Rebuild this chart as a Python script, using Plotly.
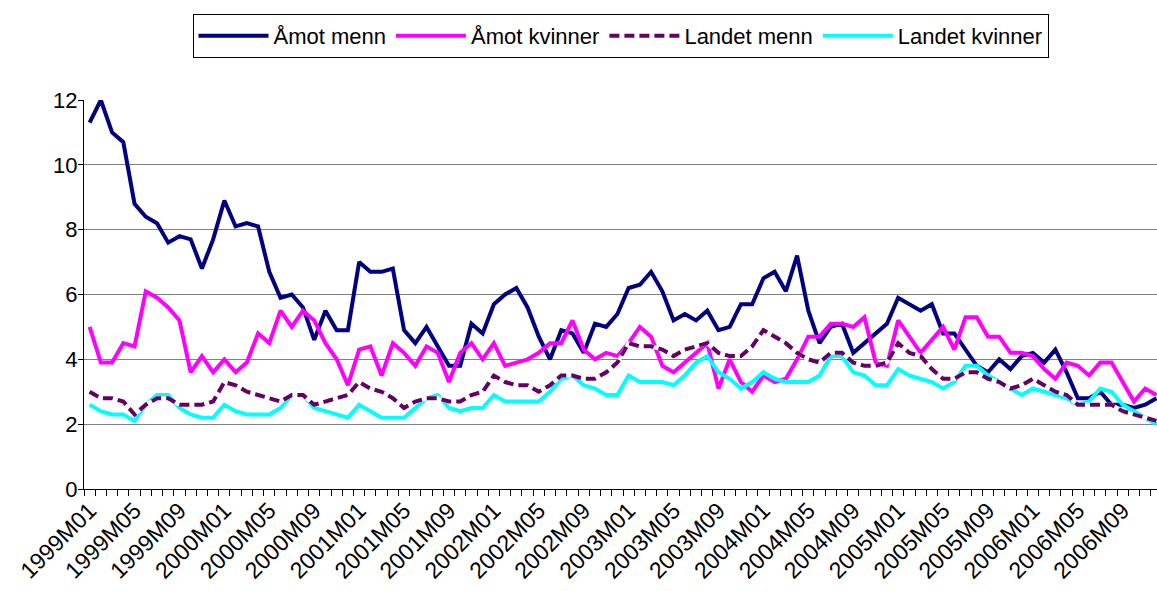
import plotly.graph_objects as go

months = [f"{y}M{m:02d}" for y in range(1999, 2007) for m in range(1, 13)]
tick_labels = months[::4]

amot_menn = [11.3, 12.0, 11.0, 10.7, 8.8, 8.4, 8.2, 7.6, 7.8, 7.7, 6.8, 7.7,
             8.9, 8.1, 8.2, 8.1, 6.7, 5.9, 6.0, 5.6, 4.6, 5.5, 4.9, 4.9,
             7.0, 6.7, 6.7, 6.8, 4.9, 4.5, 5.0, 4.4, 3.8, 3.8, 5.1, 4.8,
             5.7, 6.0, 6.2, 5.6, 4.7, 4.0, 4.9, 4.8, 4.2, 5.1, 5.0, 5.4,
             6.2, 6.3, 6.7, 6.1, 5.2, 5.4, 5.2, 5.5, 4.9, 5.0, 5.7, 5.7,
             6.5, 6.7, 6.1, 7.2, 5.5, 4.5, 5.0, 5.1, 4.2, 4.5, 4.8, 5.1,
             5.9, 5.7, 5.5, 5.7, 4.8, 4.8, 4.3, 3.8, 3.6, 4.0, 3.7, 4.1,
             4.2, 3.9, 4.3, 3.6, 2.8, 2.8, 3.0, 2.6, 2.6, 2.5, 2.6, 2.8]

amot_kvinner = [5.0, 3.9, 3.9, 4.5, 4.4, 6.1, 5.9, 5.6, 5.2, 3.6, 4.1, 3.6,
                4.0, 3.6, 3.9, 4.8, 4.5, 5.5, 5.0, 5.5, 5.2, 4.5, 4.0, 3.2,
                4.3, 4.4, 3.5, 4.5, 4.2, 3.8, 4.4, 4.2, 3.3, 4.2, 4.5, 4.0,
                4.5, 3.8, 3.9, 4.0, 4.2, 4.5, 4.5, 5.2, 4.3, 4.0, 4.2, 4.1,
                4.5, 5.0, 4.7, 3.8, 3.6, 3.9, 4.2, 4.5, 3.1, 4.0, 3.3, 3.0,
                3.5, 3.3, 3.4, 4.0, 4.7, 4.7, 5.1, 5.1, 5.0, 5.3, 3.9, 3.8,
                5.2, 4.7, 4.2, 4.6, 5.0, 4.3, 5.3, 5.3, 4.7, 4.7, 4.2, 4.2,
                4.1, 3.7, 3.4, 3.9, 3.8, 3.5, 3.9, 3.9, 3.3, 2.7, 3.1, 2.9]

landet_menn = [3.0, 2.8, 2.8, 2.7, 2.3, 2.6, 2.8, 2.8, 2.6, 2.6, 2.6, 2.7,
               3.3, 3.2, 3.0, 2.9, 2.8, 2.7, 2.9, 2.9, 2.6, 2.7, 2.8, 2.9,
               3.3, 3.1, 3.0, 2.8, 2.5, 2.7, 2.8, 2.8, 2.7, 2.7, 2.9, 3.0,
               3.5, 3.3, 3.2, 3.2, 3.0, 3.2, 3.5, 3.5, 3.4, 3.4, 3.6, 3.9,
               4.5, 4.4, 4.4, 4.3, 4.1, 4.3, 4.4, 4.5, 4.2, 4.1, 4.1, 4.4,
               4.9, 4.7, 4.5, 4.2, 4.0, 3.9, 4.2, 4.2, 3.9, 3.8, 3.8, 3.9,
               4.5, 4.2, 4.1, 3.7, 3.4, 3.4, 3.6, 3.6, 3.4, 3.3, 3.1, 3.2,
               3.4, 3.2, 3.0, 2.9, 2.6, 2.6, 2.6, 2.6, 2.4, 2.3, 2.2, 2.1]

landet_kvinner = [2.6, 2.4, 2.3, 2.3, 2.1, 2.6, 2.9, 2.9, 2.5, 2.3, 2.2, 2.2,
                  2.6, 2.4, 2.3, 2.3, 2.3, 2.5, 2.9, 2.9, 2.5, 2.4, 2.3, 2.2,
                  2.6, 2.4, 2.2, 2.2, 2.2, 2.5, 2.8, 2.9, 2.5, 2.4, 2.5, 2.5,
                  2.9, 2.7, 2.7, 2.7, 2.7, 3.0, 3.4, 3.5, 3.2, 3.1, 2.9, 2.9,
                  3.5, 3.3, 3.3, 3.3, 3.2, 3.5, 3.9, 4.1, 3.6, 3.4, 3.1, 3.3,
                  3.6, 3.4, 3.3, 3.3, 3.3, 3.5, 4.1, 4.1, 3.6, 3.5, 3.2, 3.2,
                  3.7, 3.5, 3.4, 3.3, 3.1, 3.3, 3.8, 3.8, 3.5, 3.3, 3.1, 2.9,
                  3.1, 3.0, 2.9, 2.8, 2.6, 2.7, 3.1, 3.0, 2.6, 2.4, 2.2, 2.0]

idx = list(range(len(months)))
FONT = "Liberation Sans, Arial, sans-serif"

fig = go.Figure()
fig.add_trace(go.Scatter(x=idx, y=amot_menn, name="Åmot menn", mode="lines",
                         line=dict(color="#000080", width=4), legendrank=1))
fig.add_trace(go.Scatter(x=idx, y=amot_kvinner, name="Åmot kvinner", mode="lines",
                         line=dict(color="#FF00FF", width=4), legendrank=2))
fig.add_trace(go.Scatter(x=idx, y=landet_kvinner, name="Landet kvinner", mode="lines",
                         line=dict(color="#00FFFF", width=4), legendrank=4))
fig.add_trace(go.Scatter(x=idx, y=landet_menn, name="Landet menn gap", mode="lines",
                         line=dict(color="white", width=4), showlegend=False,
                         hoverinfo="skip"))
fig.add_trace(go.Scatter(x=idx, y=landet_menn, name="Landet menn", mode="lines",
                         line=dict(color="#660066", width=4, dash="10px,5px"),
                         legendrank=3))

fig.update_layout(
    width=1157, height=591,
    margin=dict(l=84, r=0, t=100, b=102, autoexpand=False),
    paper_bgcolor="white", plot_bgcolor="white",
    font=dict(family=FONT, size=22, color="black"),
    showlegend=True,
    legend=dict(orientation="h", x=0.5, xanchor="center", y=1.221, yanchor="top",
                bordercolor="black", borderwidth=1, font=dict(size=22),
                itemwidth=70, traceorder="normal", tracegroupgap=0),
    xaxis=dict(range=[-0.5, 95.05], tickmode="array",
               tickvals=idx[::4], ticktext=tick_labels, tickangle=-45,
               ticks="", showgrid=False, zeroline=False,
               showline=True, linecolor="black", linewidth=1,
               ticklabelstandoff=-2,
               tickfont=dict(size=23),
               minor=dict(tickmode="array", tickvals=[i - 0.5 for i in idx],
                          ticks="outside", ticklen=6, tickcolor="black",
                          tickwidth=1, showgrid=False)),
    yaxis=dict(range=[0, 12], tickmode="array", tickvals=[0, 2, 4, 6, 8, 10, 12],
               ticks="outside", ticklen=5, tickcolor="black",
               ticklabelstandoff=-4,
               showgrid=True, gridcolor="#808080", gridwidth=1,
               zeroline=False, showline=True, linecolor="black", linewidth=1,
               tickfont=dict(size=22)),
)

fig.write_html("out.html", config={"displayModeBar": False},
               post_script="document.body.style.margin='0px';"
                           "document.body.style.overflow='hidden';")
